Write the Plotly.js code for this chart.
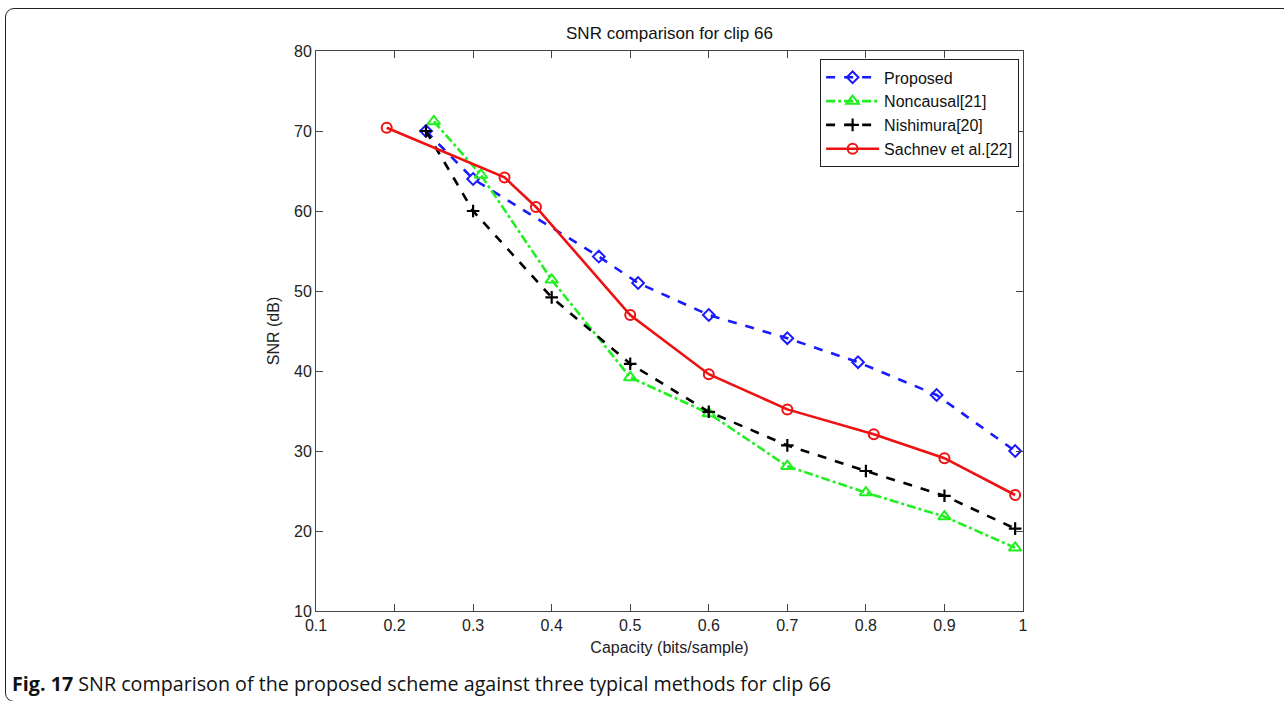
<!DOCTYPE html>
<html>
<head>
<meta charset="utf-8">
<script src="https://cdn.plot.ly/plotly-3.0.1.min.js"></script>
<style>
  html, body { margin: 0; padding: 0; background: #fff; }
  #wrap { position: relative; width: 1284px; height: 701px; overflow: hidden; }
  #chart { position: absolute; left: 0; top: 0; width: 1284px; height: 701px; }
  #frame { position: absolute; left: 5px; top: 8px; width: 1300px; height: 694px;
           border: 1.6px solid #222; border-radius: 9px; pointer-events: none; box-sizing: border-box; }
</style>
</head>
<body>
<div id="wrap">
  <div id="chart"></div>
  <div id="frame"></div>
</div>
<script>
// ---- data ----
const proposedX = [0.24, 0.30, 0.46, 0.51, 0.60, 0.70, 0.79, 0.89, 0.99];
const proposedY = [70.0, 64.0, 54.3, 51.0, 47.0, 44.1, 41.1, 37.0, 30.0];

const noncausalX = [0.25, 0.31, 0.40, 0.50, 0.60, 0.70, 0.80, 0.90, 0.99];
const noncausalY = [71.2, 64.5, 51.4, 39.2, 34.7, 28.1, 24.8, 21.8, 17.9];

const nishimuraX = [0.24, 0.30, 0.40, 0.50, 0.60, 0.70, 0.80, 0.90, 0.99];
const nishimuraY = [70.0, 60.0, 49.2, 40.9, 34.9, 30.7, 27.5, 24.4, 20.3];

const sachnevX = [0.19, 0.34, 0.38, 0.50, 0.60, 0.70, 0.81, 0.90, 0.99];
const sachnevY = [70.4, 64.2, 60.5, 47.0, 39.6, 35.2, 32.1, 29.1, 24.5];

const seriesNames = ["Proposed", "Noncausal[21]", "Nishimura[20]", "Sachnev et al.[22]"];
const xTicks = [0.1, 0.2, 0.3, 0.4, 0.5, 0.6, 0.7, 0.8, 0.9, 1];
const xTickText = ["0.1", "0.2", "0.3", "0.4", "0.5", "0.6", "0.7", "0.8", "0.9", "1"];
const yTicks = [10, 20, 30, 40, 50, 60, 70, 80];

const chartTitle = "SNR comparison for clip 66";
const xTitle = "Capacity (bits/sample)";
const yTitle = "SNR (dB)";
const caption = "<b>Fig. 17</b> SNR comparison of the proposed scheme against three typical methods for clip 66";

const font = "Arial, 'Liberation Sans', sans-serif";

const traces = [
  { x: proposedX, y: proposedY, name: seriesNames[0], type: "scatter", mode: "lines+markers",
    line: { color: "#1a1aff", width: 2.6, dash: "dash" },
    marker: { symbol: "diamond-open", size: 9, color: "#1a1aff", line: { width: 2 } } },
  { x: noncausalX, y: noncausalY, name: seriesNames[1], type: "scatter", mode: "lines+markers",
    line: { color: "#22ee22", width: 2.6, dash: "dashdot" },
    marker: { symbol: "triangle-up-open", size: 11, color: "#22ee22", line: { width: 2 } } },
  { x: nishimuraX, y: nishimuraY, name: seriesNames[2], type: "scatter", mode: "lines+markers",
    line: { color: "#000000", width: 2.6, dash: "dash" },
    marker: { symbol: "cross-thin-open", size: 9, color: "#000000", line: { width: 2.2 } } },
  { x: sachnevX, y: sachnevY, name: seriesNames[3], type: "scatter", mode: "lines+markers",
    line: { color: "#ee1111", width: 2.6, dash: "solid" },
    marker: { symbol: "circle-open", size: 10, color: "#ee1111", line: { width: 2 } } }
];

const layout = {
  width: 1284, height: 701,
  margin: { l: 316, r: 261, t: 51, b: 90 },
  paper_bgcolor: "rgba(0,0,0,0)",
  plot_bgcolor: "#ffffff",
  font: { family: font, size: 16, color: "#222" },
  showlegend: true,
  title: { text: chartTitle, font: { family: font, size: 17, color: "#111" },
           x: 0.5214, xref: "container", xanchor: "center", y: 1 - 33 / 701, yref: "container", yanchor: "middle" },
  xaxis: {
    range: [0.1, 1], tickvals: xTicks, ticktext: xTickText,
    ticks: "inside", ticklen: 7, tickcolor: "#444", tickwidth: 1,
    showline: true, linecolor: "#444", linewidth: 1, mirror: "ticks",
    showgrid: false, zeroline: false,
    tickfont: { family: font, size: 16, color: "#222" },
    title: { text: xTitle, font: { family: font, size: 16, color: "#222" }, standoff: 8 }
  },
  yaxis: {
    range: [10, 80], tickvals: yTicks,
    ticks: "inside", ticklen: 7, tickcolor: "#444", tickwidth: 1,
    showline: true, linecolor: "#444", linewidth: 1, mirror: "ticks",
    showgrid: false, zeroline: false,
    tickfont: { family: font, size: 16, color: "#222" },
    title: { text: yTitle, font: { family: font, size: 16, color: "#222" }, standoff: 10 }
  },
  legend: {
    x: 0.9945, xanchor: "right", y: 0.985, yanchor: "top",
    bgcolor: "#ffffff", bordercolor: "#222", borderwidth: 1,
    font: { family: font, size: 16, color: "#111" },
    tracegroupgap: 0, itemwidth: 53
  },
  annotations: [
    { text: caption, xref: "paper", yref: "paper", x: (10 - 316) / 707, y: (611 - 683) / 560,
      xanchor: "left", yanchor: "middle", showarrow: false,
      font: { family: "'Open Sans', 'Noto Sans', sans-serif", size: 19.7, color: "#111" } }
  ]
};

Plotly.newPlot("chart", traces, layout, { displayModeBar: false, staticPlot: true });
</script>
</body>
</html>
